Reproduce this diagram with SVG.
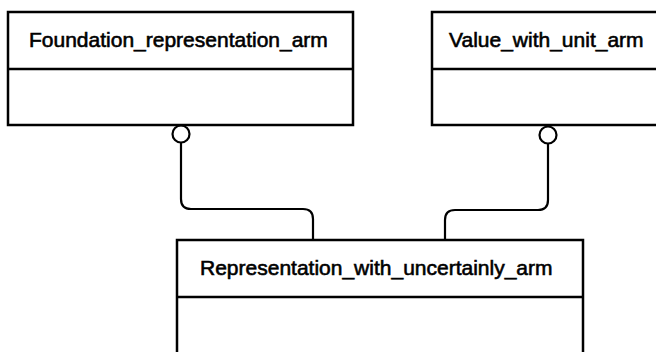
<svg xmlns="http://www.w3.org/2000/svg" width="656" height="352" viewBox="0 0 656 352">
<style>
.box{fill:#fff;stroke:#000;stroke-width:2.5}
.div{stroke:#000;stroke-width:2.5}
.lbl{font-family:"Liberation Sans",Arial,sans-serif;font-size:21px;fill:#000;stroke:#000;stroke-width:0.6}
.con{fill:none;stroke:#000;stroke-width:2.2}
.ring{fill:#fff;stroke:#000;stroke-width:2.2}
</style>
<rect width="656" height="352" fill="#fff"/>
<g id="connectors">
<path class="con" d="M181,143 V199 Q181,209 191,209 H303 Q313,209 313,219 V240"/>
<path class="con" d="M548,144 V200 Q548,210 538,210 H455 Q445,210 445,220 V240"/>
<circle class="ring" cx="181" cy="134" r="8.5"/>
<circle class="ring" cx="548" cy="135" r="8.5"/>
</g>
<g id="foundation_representation_arm">
<rect class="box" x="8" y="12" width="345" height="113"/>
<line class="div" x1="8" y1="69" x2="353" y2="69"/>
<text class="lbl" x="29" y="47">Foundation_representation_arm</text>
</g>
<g id="value_with_unit_arm">
<rect class="box" x="432" y="12" width="240" height="113"/>
<line class="div" x1="432" y1="69" x2="672" y2="69"/>
<text class="lbl" x="449" y="47">Value_with_unit_arm</text>
</g>
<g id="representation_with_uncertainly_arm">
<rect class="box" x="177" y="240" width="406" height="130"/>
<line class="div" x1="177" y1="297" x2="583" y2="297"/>
<text class="lbl" x="200" y="275">Representation_with_uncertainly_arm</text>
</g>
</svg>
